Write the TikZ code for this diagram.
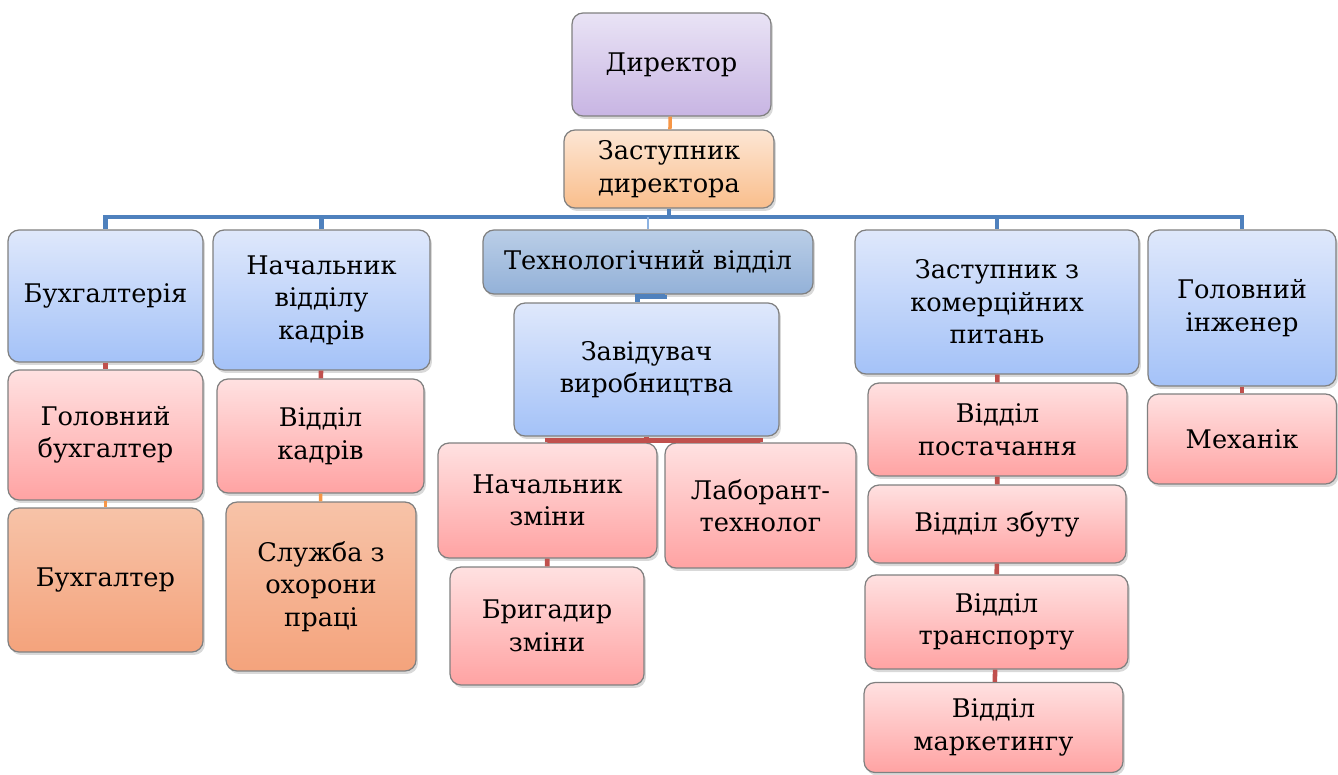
\documentclass[tikz,border=0pt]{standalone}
\usepackage{fontspec}
\setmainfont{DejaVu Serif}
\newfontfamily\orgfont{DejaVu Serif}
\usetikzlibrary{shadows}

\definecolor{purpleTop}{HTML}{E9E3F5}
\definecolor{purpleBot}{HTML}{C8B5E3}
\definecolor{peachTop}{HTML}{FDE6D4}
\definecolor{peachBot}{HTML}{F9BE8C}
\definecolor{blueTop}{HTML}{DFE8FB}
\definecolor{blueBot}{HTML}{A4C2F8}
\definecolor{techTop}{HTML}{BACEE7}
\definecolor{techBot}{HTML}{93B1D8}
\definecolor{pinkTop}{HTML}{FFE1E1}
\definecolor{pinkBot}{HTML}{FFA3A3}
\definecolor{orTop}{HTML}{F7C3A8}
\definecolor{orBot}{HTML}{F4A37C}
\definecolor{busBlue}{HTML}{4F81BD}
\definecolor{lightBus}{HTML}{8DB3E2}
\definecolor{redLine}{HTML}{C0504D}
\definecolor{orLine}{HTML}{F79646}

\begin{document}
\begin{tikzpicture}[x=0.02cm, y=-0.02cm]
    % Styles
    \tikzstyle{block} = [rectangle, draw=black!50, line width=0.7pt, rounded corners=0.22cm, align=center, inner sep=0pt, font=\orgfont\fontsize{14.6}{18.5}\selectfont, drop shadow={opacity=0.3, shadow xshift=0.04cm, shadow yshift=-0.06cm}]
    \tikzstyle{lilac} = [block, top color=purpleTop, bottom color=purpleBot]
    \tikzstyle{peach} = [block, top color=peachTop, bottom color=peachBot]
    \tikzstyle{unit} = [block, top color=blueTop, bottom color=blueBot]
    \tikzstyle{tech} = [block, top color=techTop, bottom color=techBot]
    \tikzstyle{sub} = [block, top color=pinkTop, bottom color=pinkBot]
    \tikzstyle{staff} = [block, top color=orTop, bottom color=orBot]
    \tikzstyle{busline} = [busBlue, line width=2.8pt]
    \tikzstyle{redline} = [redLine, line width=2.6pt]
    \tikzstyle{orline} = [orLine, line width=2pt]

    \useasboundingbox (0,0) rectangle (1338,774);

    % Nodes
    \node[lilac, minimum width=3.98cm, minimum height=2.06cm] (dir) at (671.5,64.5) {Директор};
    \node[peach, minimum width=4.2cm, minimum height=1.56cm] (zast) at (669,169) {Заступник\\директора};

    \node[unit, minimum width=3.9cm, minimum height=2.64cm] (buh) at (105.5,296) {Бухгалтерія};
    \node[unit, minimum width=4.34cm, minimum height=2.8cm] (nachkadr) at (321.5,300) {Начальник\\відділу\\кадрів};
    \node[tech, minimum width=6.6cm, minimum height=1.28cm] (techvid) at (648,262) {Технологічний відділ};
    \node[unit, minimum width=5.3cm, minimum height=2.66cm] (zav) at (646.5,369.5) {Завідувач\\виробництва};
    \node[unit, minimum width=5.68cm, minimum height=2.88cm] (komerc) at (997,302) {Заступник з\\комерційних\\питань};
    \node[unit, minimum width=3.76cm, minimum height=3.12cm] (inzh) at (1242,308) {Головний\\інженер};

    \node[sub, minimum width=3.9cm, minimum height=2.6cm] (golbuh) at (105.5,435) {Головний\\бухгалтер};
    \node[staff, minimum width=3.9cm, minimum height=2.88cm] (bukhg) at (105.5,580) {Бухгалтер};
    \node[sub, minimum width=4.14cm, minimum height=2.28cm] (viddkadr) at (320.5,436) {Відділ\\кадрів};
    \node[staff, minimum width=3.8cm, minimum height=3.38cm] (sluzhba) at (321,586.5) {Служба з\\охорони\\праці};

    \node[sub, minimum width=4.38cm, minimum height=2.3cm] (nachzmin) at (547.5,500.5) {Начальник\\зміни};
    \node[sub, minimum width=3.82cm, minimum height=2.5cm] (lab) at (760.5,505.5) {Лаборант-\\технолог};
    \node[sub, minimum width=3.88cm, minimum height=2.36cm] (bryg) at (547,626) {Бригадир\\зміни};

    \node[sub, minimum width=5.18cm, minimum height=1.86cm] (postach) at (997.5,429.5) {Відділ\\постачання};
    \node[sub, minimum width=5.16cm, minimum height=1.56cm] (zbut) at (997,524) {Відділ збуту};
    \node[sub, minimum width=5.26cm, minimum height=1.88cm] (transp) at (996.5,622) {Відділ\\транспорту};
    \node[sub, minimum width=5.18cm, minimum height=1.8cm] (market) at (993.5,727.5) {Відділ\\маркетингу};
    \node[sub, minimum width=3.78cm, minimum height=1.8cm] (mekh) at (1242,439) {Механік};

    \coordinate (bus) at (669,217);

    % Paths
    \draw [orline] (dir) -- (zast);
    \draw [busline] (zast.south) -- (bus);
    \draw [busline] (bus) -| (buh.north);
    \draw [busline] (bus) -| (nachkadr.north);
    \draw [busline] (bus) -| (komerc.north);
    \draw [busline] (bus) -| (inzh.north);
    \draw [lightBus, line width=1.4pt] (bus -| techvid.north) -- (techvid.north);
    \draw [busline] ([xshift=0.34cm]techvid.south) |- ([xshift=-0.18cm, yshift=0.12cm]zav.north) -- ([xshift=-0.18cm]zav.north);

    \draw [redline] (buh) -- (golbuh);
    \draw [orline] (golbuh) -- (bukhg);
    \draw [redline] (nachkadr) -- (viddkadr);
    \draw [orline] (viddkadr) -- (sluzhba);

    \draw [redline] (zav.south) -- ++(0,4) coordinate (zavbus);
    \draw [redline] (nachzmin.north) |- (zavbus) -| (lab.north);
    \draw [redline] (nachzmin) -- (bryg);

    \draw [redline] (komerc) -- (postach);
    \draw [redline] (postach) -- (zbut);
    \draw [redline] (zbut) -- (transp);
    \draw [redline] (transp) -- (market);
    \draw [redline] (inzh) -- (mekh);
  \end{tikzpicture}
\end{document}
